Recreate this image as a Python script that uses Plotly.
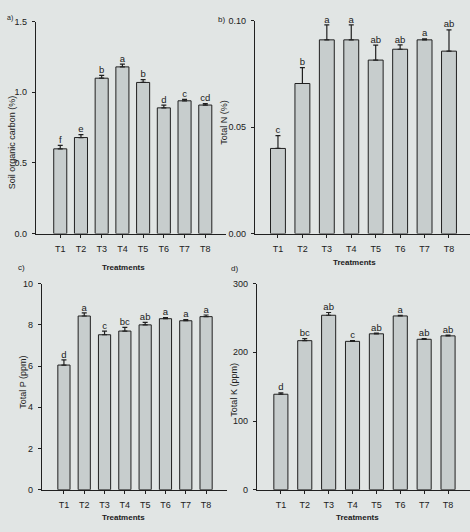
import plotly.graph_objects as go

treatments = ["T1", "T2", "T3", "T4", "T5", "T6", "T7", "T8"]

soc_mean = [0.60, 0.68, 1.10, 1.18, 1.07, 0.89, 0.94, 0.91]
soc_err = [0.025, 0.02, 0.02, 0.02, 0.02, 0.02, 0.01, 0.01]
soc_letters = ["f", "e", "b", "a", "b", "d", "c", "cd"]

n_mean = [0.040, 0.0705, 0.091, 0.091, 0.0815, 0.0866, 0.091, 0.0857]
n_err = [0.006, 0.0075, 0.007, 0.007, 0.007, 0.002, 0.0005, 0.010]
n_letters = ["c", "b", "a", "a", "ab", "ab", "a", "ab"]

p_mean = [6.05, 8.43, 7.52, 7.7, 8.0, 8.3, 8.2, 8.4]
p_err = [0.25, 0.15, 0.18, 0.18, 0.12, 0.05, 0.05, 0.08]
p_letters = ["d", "a", "c", "bc", "ab", "a", "a", "a"]

k_mean = [139, 217, 254, 216, 227, 253, 219, 224]
k_err = [2, 3, 4, 1, 1, 1, 1, 1]
k_letters = ["d", "bc", "ab", "c", "ab", "a", "ab", "ab"]

W, H = 470, 532
BG = "#e1e5e4"
BAR = "#c7cdcd"
INK = "#202020"
FONT = "Liberation Sans"


def dx(a, b):
    return [a / W, b / W]


def dy(top, bottom):
    return [1 - bottom / H, 1 - top / H]


panels = [
    ("", soc_mean, soc_err, soc_letters, (36, 226), (17, 233), [-1.17, 8.0], [0, 1.5],
     [0, 0.5, 1.0, 1.5], ["0.0", "0.5", "1.0", "1.5"], 0.63),
    ("2", n_mean, n_err, n_letters, (255, 470), (16, 233), [-0.94, 7.86], [0, 0.10],
     [0, 0.05, 0.10], ["0.00", "0.05", "0.10"], 0.61),
    ("3", p_mean, p_err, p_letters, (42, 227), (284, 494), [-1.08, 8.03], [0, 10],
     [0, 2, 4, 6, 8, 10], ["0", "2", "4", "6", "8", "10"], 0.6),
    ("4", k_mean, k_err, k_letters, (257, 470), (284, 494), [-1.0, 7.92], [0, 300],
     [0, 100, 200, 300], ["0", "100", "200", "300"], 0.59),
]

fig = go.Figure()
layout = {}
for key, means, errs, letters, xd, yd, xr, yr, tv, tt, bw in panels:
    xa = "x" + key
    ya = "y" + key
    fig.add_trace(go.Bar(
        x=treatments, y=means, width=bw,
        marker=dict(color=BAR, line=dict(color=INK, width=1)),
        error_y=dict(type="data", array=errs, arrayminus=[0] * len(errs), symmetric=False,
                     color=INK, thickness=1.2, width=2.5),
        xaxis=xa, yaxis=ya, showlegend=False, hoverinfo="skip",
    ))
    fig.add_trace(go.Scatter(
        x=treatments, y=[m + e for m, e in zip(means, errs)], text=letters,
        mode="text", textposition="top center",
        textfont=dict(family=FONT, size=9.5, color=INK),
        xaxis=xa, yaxis=ya, showlegend=False, cliponaxis=False, hoverinfo="skip",
    ))
    layout["xaxis" + key] = dict(
        domain=dx(*xd), range=xr, anchor=ya, showline=True, linecolor=INK, linewidth=1.2,
        ticks="outside", ticklen=3, tickcolor=INK, showgrid=False, zeroline=False,
        tickfont=dict(family=FONT, size=9, color=INK), type="category",
        ticklabelstandoff=3,
    )
    layout["yaxis" + key] = dict(
        domain=dy(*yd), range=yr, anchor=xa, showline=True, linecolor=INK, linewidth=1.2,
        ticks="outside", ticklen=3, tickcolor=INK, showgrid=False, zeroline=False,
        tickvals=tv, ticktext=tt, tickfont=dict(family=FONT, size=9, color=INK),
        ticklabelstandoff=3,
    )

fig.update_layout(**layout)

ann = []


def add_text(x, y, text, angle=0, size=9):
    ann.append(dict(x=x / W, y=1 - y / H, xref="paper", yref="paper", text=text,
                    showarrow=False, textangle=angle, xanchor="center", yanchor="middle",
                    font=dict(family=FONT, size=size, color=INK)))


add_text(12, 140, "Soil organic carbon (%)", -90)
add_text(224, 120, "Total N (%)", -90)
add_text(23, 385, "Total P (ppm)", -90)
add_text(234, 392, "Total K (ppm)", -90)
add_text(123, 268, "<b>Treatments</b>", size=8)
add_text(354, 262, "<b>Treatments</b>", size=8)
add_text(123, 522, "<b>Treatments</b>", size=8)
add_text(357, 522, "<b>Treatments</b>", size=8)
add_text(10, 13, "a)", size=7)
add_text(221, 15, "b)", size=8)
add_text(21, 268, "c)", size=8)
add_text(234, 269, "d)", size=8)

fig.update_layout(
    width=W, height=H, margin=dict(l=0, r=0, t=0, b=0),
    paper_bgcolor=BG, plot_bgcolor=BG, annotations=ann, bargap=0.3,
    hovermode=False,
)

fig.write_html("out.html", config={"displayModeBar": False},
               post_script="document.body.style.margin='0';document.body.style.overflow='hidden';")
